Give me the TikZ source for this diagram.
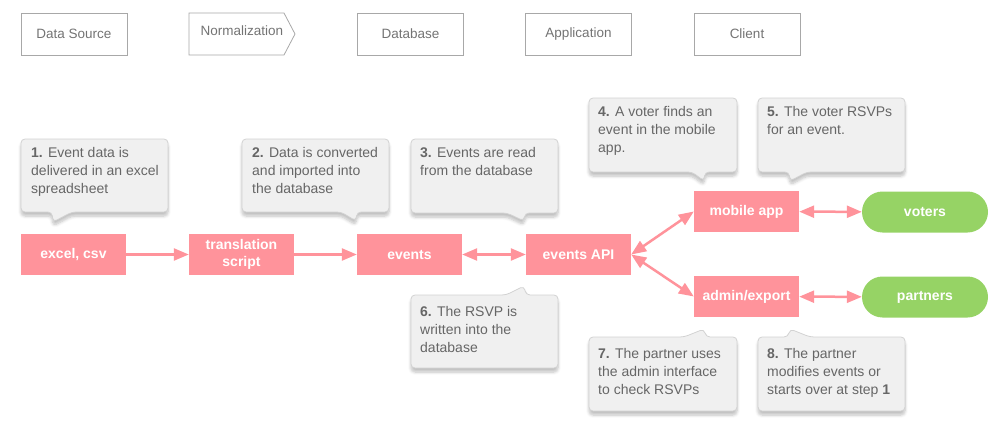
\documentclass[tikz,border=0pt]{standalone}
\usepackage{fontspec}
\setmainfont{Liberation Sans}
\usetikzlibrary{arrows.meta,shadows.blur}
\definecolor{pinkc}{HTML}{FF939B}
\definecolor{greenc}{HTML}{96D365}
\definecolor{callfill}{HTML}{F0F0F0}
\definecolor{calldraw}{HTML}{D2D2D2}
\definecolor{calltextc}{HTML}{666666}
\definecolor{headdraw}{HTML}{A8A8A8}
\definecolor{headtext}{HTML}{737373}
\begin{document}
\begin{tikzpicture}[x=1pt,y=-1pt,
  headbox/.style={draw=headdraw, line width=0.8pt, minimum width=106pt, minimum height=42pt, inner sep=0pt},
  headtxt/.style={text=headtext, font=\fontsize{13.5}{16}\selectfont, inner sep=0pt},
  pnode/.style={fill=pinkc, text=white, font=\bfseries\fontsize{14}{17}\selectfont, minimum width=105pt, minimum height=41pt, inner sep=0pt, align=center},
  gnode/.style={fill=greenc, text=white, font=\bfseries\fontsize{14}{17}\selectfont, minimum width=126pt, minimum height=41pt, inner sep=0pt, rounded corners=20.5pt},
  callout/.style={fill=callfill, draw=calldraw, line width=0.8pt, rounded corners=4pt,
     blur shadow={shadow xshift=0pt, shadow yshift=-4pt, shadow blur steps=6, shadow blur radius=3pt, shadow opacity=25}},
  calltxt/.style={text=calltextc, font=\fontsize{14}{18}\selectfont, align=left, inner sep=0pt, anchor=north west},
  link/.style={draw=pinkc, line width=2.5pt, -{Triangle[length=15pt,width=12pt]}},
  dlink/.style={draw=pinkc, line width=2.5pt, {Triangle[length=15pt,width=12pt]}-{Triangle[length=15pt,width=12pt]}}
]
\useasboundingbox (0,0) rectangle (999,436);

% header
\node[headbox] (hds) at (74,34) {};
\node[headtxt] (hdst) at (74,34) {Data Source};
\draw[draw=headdraw, line width=0.8pt] (189,13) -- (284,13) -- (295,34) -- (284,55) -- (189,55) -- cycle;
\node[headtxt] (hnorm) at (242,31) {Normalization};
\node[headbox] (hdb) at (410.5,34) {};
\node[headtxt] (hdbt) at (410.5,34) {Database};
\node[headbox] (happ) at (578.5,34) {};
\node[headtxt] (happt) at (578.5,34) {Application};
\node[headbox] (hcl) at (747,34) {};
\node[headtxt] (hclt) at (747,34) {Client};

% callouts
\path[callout] (21,139) -- (168,139) -- (168,212) -- (72,212) -- (53,222) -- (52,212) -- (21,212) -- cycle;
\node[calltxt] (c1) at (31,147.5) {\textbf{1.} Event data is\\delivered in an excel\\spreadsheet};

\path[callout] (242,139) -- (389,139) -- (389,212) -- (357,212) -- (356,221) -- (341,212) -- (242,212) -- cycle;
\node[calltxt] (c2) at (252,147.5) {\textbf{2.} Data is converted\\and imported into\\the database};

\path[callout] (411,139) -- (558,139) -- (558,213) -- (525,213) -- (524,221) -- (507,213) -- (411,213) -- cycle;
\node[calltxt] (c3) at (420,147.5) {\textbf{3.} Events are read\\from the database};

\path[callout] (589,98) -- (737,98) -- (737,172) -- (705,172) -- (704,181) -- (692,172) -- (589,172) -- cycle;
\node[calltxt] (c4) at (598,106.5) {\textbf{4.} A voter finds an\\event in the mobile\\app.};

\path[callout] (758,98) -- (905,98) -- (905,172) -- (807,172) -- (790,181) -- (789,172) -- (758,172) -- cycle;
\node[calltxt] (c5) at (767,106.5) {\textbf{5.} The voter RSVPs\\for an event.};

\path[callout] (411,295) -- (506,295) -- (524,286) -- (526,295) -- (558,295) -- (558,368) -- (411,368) -- cycle;
\node[calltxt] (c6) at (420,306) {\textbf{6.} The RSVP is\\written into the\\database};

\path[callout] (589,337) -- (684,337) -- (704,329) -- (706,337) -- (737,337) -- (737,411) -- (589,411) -- cycle;
\node[calltxt] (c7) at (598,348) {\textbf{7.} The partner uses\\the admin interface\\to check RSVPs};

\path[callout] (758,337) -- (788,337) -- (790,329) -- (810,337) -- (905,337) -- (905,411) -- (758,411) -- cycle;
\node[calltxt] (c8) at (767,348) {\textbf{8.} The partner\\modifies events or\\starts over at step \textbf{1}};

% main nodes
\node[pnode] (excel) at (73.5,254.5) {excel, csv};
\node[pnode] (trans) at (241.5,254.5) {translation\\script};
\node[pnode] (events) at (409.5,254.5) {events};
\node[pnode] (api) at (578.5,254.5) {events API};
\node[pnode] (mobile) at (746.5,211.5) {mobile app};
\node[pnode] (admin) at (746.5,296.5) {admin/export};
\node[gnode] (voters) at (925,212) {voters};
\node[gnode] (partners) at (925,297) {partners};

% connectors
\draw[link] (excel) -- (trans);
\draw[link] (trans) -- (events);
\draw[dlink] (events) -- (api);
\draw[dlink] (api.east) -- (mobile.west);
\draw[dlink] (api.east) -- (admin.west);
\draw[dlink] (mobile) -- (voters);
\draw[dlink] (admin) -- (partners);
\end{tikzpicture}
\end{document}
